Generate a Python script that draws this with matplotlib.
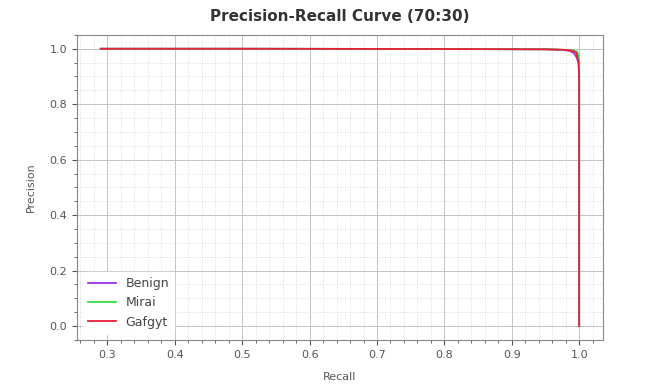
import matplotlib
matplotlib.use("Agg")
import matplotlib.pyplot as plt
from matplotlib.ticker import AutoMinorLocator

classes = ["Benign", "Mirai", "Gafgyt"]
colors = ["#9932e6", "#33dd44", "#e8203a"]

benign_recall = [0.29, 0.5, 0.8, 0.95, 0.975, 0.986, 0.992, 0.996, 0.999, 1.0, 1.0]
benign_precision = [1.0, 1.0, 0.999, 0.998, 0.996, 0.992, 0.985, 0.97, 0.95, 0.93, 0.0]
mirai_recall = [0.29, 0.5, 0.8, 0.95, 0.98, 0.99, 0.997, 0.9995, 1.0, 1.0]
mirai_precision = [1.0, 1.0, 0.999, 0.998, 0.996, 0.994, 0.99, 0.97, 0.94, 0.0]
gafgyt_recall = [0.29, 0.5, 0.8, 0.95, 0.98, 0.99, 0.996, 0.999, 1.0, 1.0]
gafgyt_precision = [1.0, 1.0, 0.999, 0.998, 0.996, 0.993, 0.985, 0.95, 0.9, 0.0]

recalls = [benign_recall, mirai_recall, gafgyt_recall]
precisions = [benign_precision, mirai_precision, gafgyt_precision]

fig = plt.figure(figsize=(6.62, 3.92), dpi=100)
ax = fig.add_axes([0.116, 0.133, 0.795, 0.778])

for name, c, r, p in zip(classes, colors, recalls, precisions):
    ax.plot(r, p, color=c, lw=1.3, label=name)

ax.xaxis.set_minor_locator(AutoMinorLocator())
ax.yaxis.set_minor_locator(AutoMinorLocator())
ax.grid(which="major", color="#c4c4c4", lw=0.7)
ax.grid(which="minor", color="#cfcfcf", lw=0.6, ls=(0, (1, 2)))
ax.set_axisbelow(True)

for s in ax.spines.values():
    s.set_color("#888888")
ax.tick_params(colors="#555555", labelsize=8, which="both")
ax.tick_params(which="minor", length=2)

ax.set_title("Precision-Recall Curve (70:30)", fontsize=11, fontweight="bold", color="#333333", pad=10)
ax.set_xlabel("Recall", fontsize=8, color="#555555", labelpad=9)
ax.set_ylabel("Precision", fontsize=8, color="#555555", labelpad=10)

leg = ax.legend(loc="lower left", fontsize=9, frameon=True, framealpha=1, edgecolor="white", handlelength=2.2)
for t in leg.get_texts():
    t.set_color("#444444")

fig.savefig("out.png", dpi=100)
